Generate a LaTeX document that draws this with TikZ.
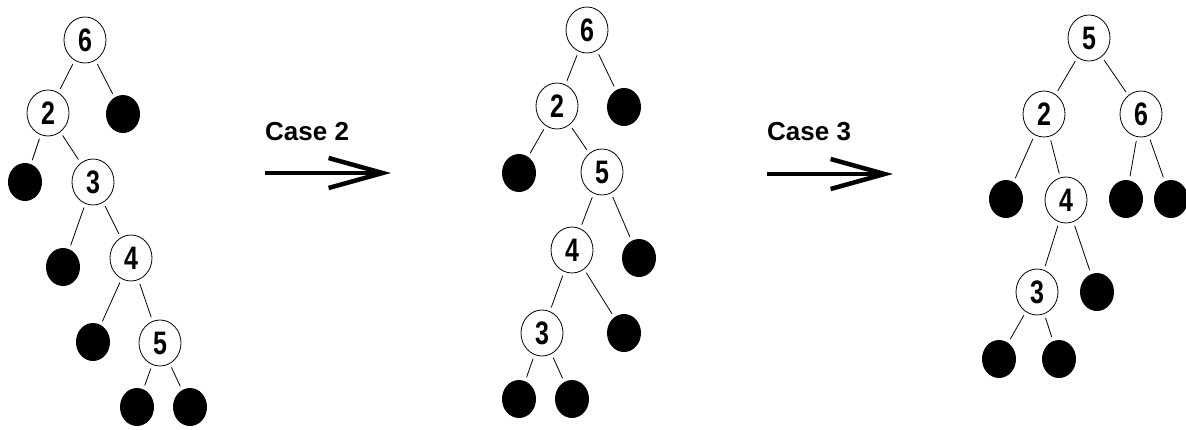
\documentclass[tikz,border=0pt]{standalone}
\usepackage{fontspec}
\setmainfont{Liberation Sans}
\usetikzlibrary{shapes.geometric,arrows.meta}
\newcommand{\keytext}[1]{\scalebox{1}[1.3]{#1}}
\begin{document}
\begin{tikzpicture}[x=1pt,y=-1pt,
  key/.style={ellipse,draw,line width=0.8pt,minimum width=42pt,minimum height=46pt,inner sep=0pt,
              font=\fontsize{25}{25}\selectfont\bfseries},
  leaf/.style={ellipse,fill=black,minimum width=34pt,minimum height=38pt,inner sep=0pt},
  edge/.style={line width=0.8pt,shorten <=4pt,shorten >=4pt},
  label/.style={anchor=base west,inner sep=0pt,font=\fontsize{26}{26}\selectfont\bfseries},
  bigarrow/.style={line width=4.5pt,-{Straight Barb[length=54pt,width=30pt]}}]
\useasboundingbox (0,0) rectangle (1186,429);

% ---- first tree ----
\node[key]  (A6) at (85,40)   {\keytext{6}};
\node[key]  (A2) at (48,113)  {\keytext{2}};
\node[leaf] (Al1) at (123,114) {};
\node[leaf] (Al2) at (25,182)  {};
\node[key]  (A3) at (93,182)  {\keytext{3}};
\node[leaf] (Al3) at (63,267)  {};
\node[key]  (A4) at (131,258) {\keytext{4}};
\node[leaf] (Al4) at (93,342)  {};
\node[key]  (A5) at (160,343) {\keytext{5}};
\node[leaf] (Al5) at (137,407) {};
\node[leaf] (Al6) at (190,407) {};
\draw[edge] (A6) -- (A2);
\draw[edge] (A6) -- (Al1);
\draw[edge] (A2) -- (Al2);
\draw[edge] (A2) -- (A3);
\draw[edge] (A3) -- (Al3);
\draw[edge] (A3) -- (A4);
\draw[edge] (A4) -- (Al4);
\draw[edge] (A4) -- (A5);
\draw[edge] (A5) -- (Al5);
\draw[edge] (A5) -- (Al6);

% ---- first rotation ----
\node[label] (c2) at (265,140) {Case 2};
\coordinate (s1) at (265,173);
\coordinate (e1) at (391,173);
\draw[bigarrow] (s1) -- (e1);

% ---- second tree ----
\node[key]  (B6) at (587,30)  {\keytext{6}};
\node[key]  (B2) at (557,106) {\keytext{2}};
\node[leaf] (Bl1) at (624,107) {};
\node[leaf] (Bl2) at (519,173) {};
\node[key]  (B5) at (602,172) {\keytext{5}};
\node[key]  (B4) at (572,250) {\keytext{4}};
\node[leaf] (Bl3) at (639,258) {};
\node[key]  (B3) at (542,333) {\keytext{3}};
\node[leaf] (Bl4) at (624,333) {};
\node[leaf] (Bl5) at (519,399) {};
\node[leaf] (Bl6) at (572,399) {};
\draw[edge] (B6) -- (B2);
\draw[edge] (B6) -- (Bl1);
\draw[edge] (B2) -- (Bl2);
\draw[edge] (B2) -- (B5);
\draw[edge] (B5) -- (B4);
\draw[edge] (B5) -- (Bl3);
\draw[edge] (B4) -- (B3);
\draw[edge] (B4) -- (Bl4);
\draw[edge] (B3) -- (Bl5);
\draw[edge] (B3) -- (Bl6);

% ---- second rotation ----
\node[label] (c3) at (767,140) {Case 3};
\coordinate (s2) at (767,174);
\coordinate (e2) at (893,174);
\draw[bigarrow] (s2) -- (e2);

% ---- third tree ----
\node[key]  (C5) at (1089,38)  {\keytext{5}};
\node[key]  (C2) at (1044,114) {\keytext{2}};
\node[key]  (C6) at (1141,114) {\keytext{6}};
\node[leaf] (Cl1) at (1006,199) {};
\node[key]  (C4) at (1066,200) {\raisebox{-5pt}{\keytext{4}}};
\node[leaf] (Cl2) at (1126,199) {};
\node[leaf] (Cl3) at (1171,199) {};
\node[key]  (C3) at (1037,292) {\keytext{3}};
\node[leaf] (Cl4) at (1097,292) {};
\node[leaf] (Cl5) at (999,359)  {};
\node[leaf] (Cl6) at (1059,359) {};
\draw[edge] (C5) -- (C2);
\draw[edge] (C5) -- (C6);
\draw[edge] (C2) -- (Cl1);
\draw[edge] (C2) -- (C4);
\draw[edge] (C6) -- (Cl2);
\draw[edge] (C6) -- (Cl3);
\draw[edge] (C4) -- (C3);
\draw[edge] (C4) -- (Cl4);
\draw[edge] (C3) -- (Cl5);
\draw[edge] (C3) -- (Cl6);
\end{tikzpicture}
\end{document}
